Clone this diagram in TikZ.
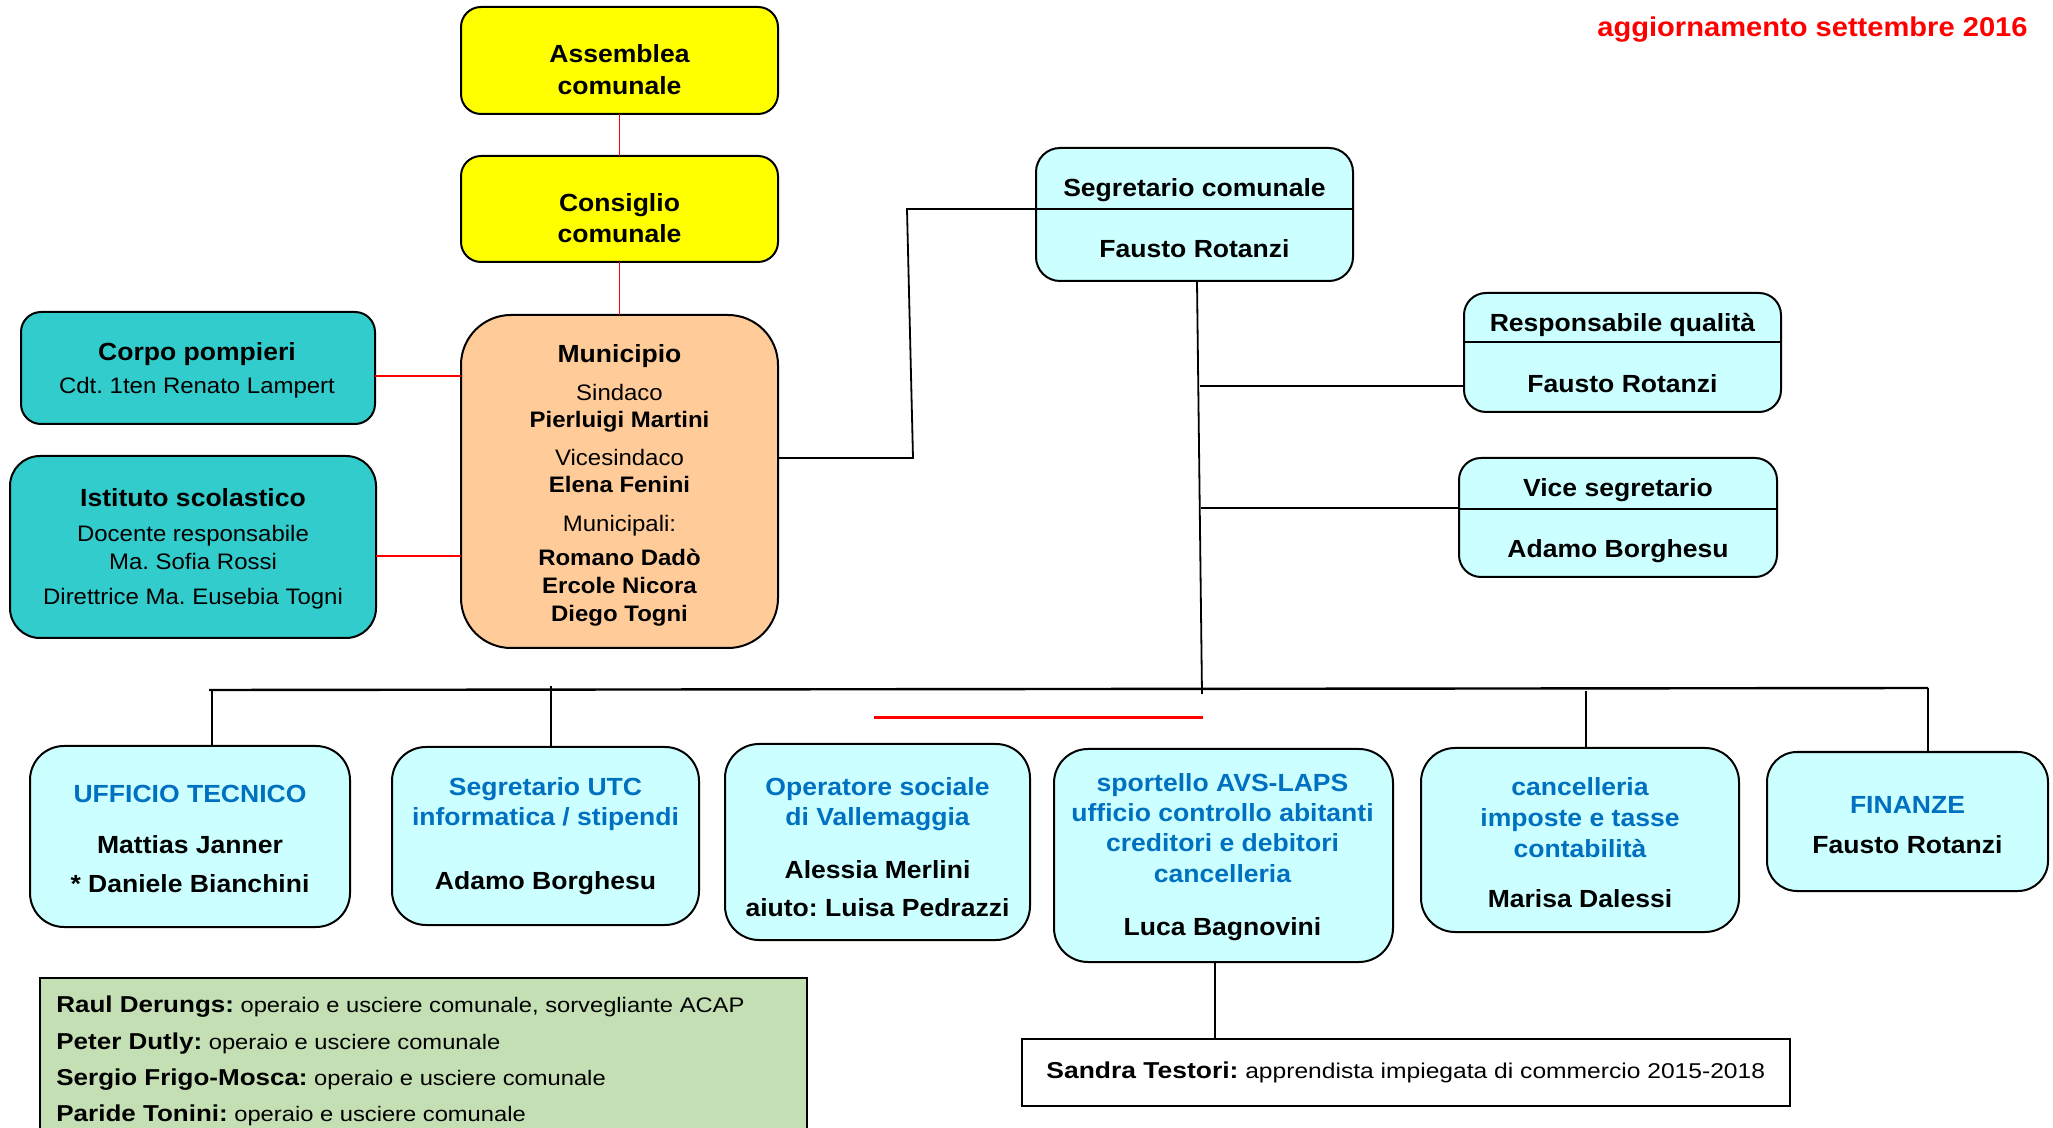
\documentclass[tikz,border=0pt]{standalone}
\usepackage{fontspec}
\setmainfont{Liberation Sans}[FakeStretch=1.07]
\newfontfamily\greenfont{Liberation Sans}[FakeStretch=1.13]
\newfontfamily\sandrafont{Liberation Sans}[FakeStretch=1.15]
\frenchspacing
\definecolor{yel}{HTML}{FFFF00}
\definecolor{peach}{HTML}{FFCC99}
\definecolor{tealbox}{HTML}{33CCCC}
\definecolor{lcyan}{HTML}{CCFFFF}
\definecolor{ublue}{HTML}{0070C0}
\definecolor{lgreen}{HTML}{C4DFB4}
\tikzset{
  bx/.style={draw=black, line width=1pt, inner sep=0pt, outer sep=0pt},
  sz/.style 2 args={minimum width=#1*0.5pt, minimum height=#2*0.5pt},
  hd/.style={anchor=base, inner sep=0pt, font=\bfseries\fontsize{12.4}{14}\selectfont},
  rg/.style={anchor=base, inner sep=0pt, font=\fontsize{11.2}{13}\selectfont},
  nm/.style={anchor=base, inner sep=0pt, font=\bfseries\fontsize{11.2}{13}\selectfont},
  bl/.style={hd, text=ublue},
  conn/.style={draw=black, line width=0.9pt},
  rconn/.style={draw=red, line width=0.9pt},
  cyanbox/.style={bx, fill=lcyan, rounded corners=17pt}
}
\begin{document}
\frenchspacing
\begin{tikzpicture}[x=0.5pt,y=-0.5pt]
\useasboundingbox (0,0) rectangle (2053,1128);
\fill[white] (0,0) rectangle (2053,1128);

% ---------- boxes ----------
\node[bx, fill=yel, rounded corners=10pt, sz={317}{107}] (ass) at (619.5,60.5) {};
\node[bx, fill=yel, rounded corners=10pt, sz={317}{106}] (cons) at (619.5,209) {};
\node[bx, fill=peach, rounded corners=25pt, sz={317}{333}] (mun) at (619.5,481.5) {};
\node[bx, fill=tealbox, rounded corners=10pt, sz={354}{112}] (corpo) at (198,368) {};
\node[bx, fill=tealbox, rounded corners=15pt, sz={366}{182}] (ist) at (193,547) {};
\node[bx, fill=lcyan, rounded corners=12pt, sz={317}{133}] (seg) at (1194.5,214.5) {};
\node[bx, fill=lcyan, rounded corners=11pt, sz={317}{119}] (resp) at (1622.5,352.5) {};
\node[bx, fill=lcyan, rounded corners=11pt, sz={318}{119}] (vice) at (1618,517.5) {};
\node[cyanbox, sz={320}{181}] (uff) at (190,836.5) {};
\node[cyanbox, sz={307}{178}] (utc) at (545.5,836) {};
\node[cyanbox, sz={305}{196}] (ope) at (877.5,842) {};
\node[cyanbox, sz={339}{213}] (spo) at (1223.5,855.5) {};
\node[cyanbox, sz={318}{184}] (can) at (1580,840) {};
\node[cyanbox, rounded corners=15pt, sz={281}{139}] (fin) at (1907.5,821.5) {};
\begin{scope}
\clip (0,0) rectangle (2053,1128);
\node[bx, fill=lgreen, sz={767}{170}] (grn) at (423.5,1063) {};
\end{scope}
\node[bx, fill=white, sz={768}{67}] (san) at (1406,1072.5) {};

% dividers
\coordinate (dseg) at (0,209);
\coordinate (dresp) at (0,342);
\coordinate (dvice) at (0,509);
\draw[line width=1pt] (seg.west |- dseg) -- (seg.east |- dseg);
\draw[line width=1pt] (resp.west |- dresp) -- (resp.east |- dresp);
\draw[line width=1pt] (vice.west |- dvice) -- (vice.east |- dvice);

% ---------- connectors ----------
\draw[rconn] (ass) -- (cons);
\draw[rconn] (cons) -- (mun);
\coordinate (r1) at (0,376);
\coordinate (r2) at (0,556);
\draw[rconn] (corpo.east |- r1) -- (mun.west |- r1);
\draw[rconn] (ist.east |- r2) -- (mun.west |- r2);

\coordinate (jm) at (913,458);
\coordinate (js) at (907,209);
\draw[conn] (mun.east |- jm) -- (jm) -- (js) -- (seg.west |- js);

\coordinate (tt) at (1197,281);
\coordinate (tb) at (1202,694);
\draw[conn] (seg.south -| tt) -- (tb);
\coordinate (br1) at (1199.5,386);
\coordinate (br2) at (1200.5,508);
\draw[conn] (br1) -- (resp.west |- br1);
\draw[conn] (br2) -- (vice.west |- br2);

\coordinate (busL) at (209,690);
\coordinate (busR) at (1928,688);
\draw[conn, line width=1.2pt] (busL) -- (busR);
\coordinate (d1) at (212,690);
\coordinate (d2) at (551,686);
\coordinate (d3) at (1586,691);
\draw[conn] (d1) -- (uff.north -| d1);
\draw[conn] (d2) -- (utc.north -| d2);
\draw[conn] (d3) -- (can.north -| d3);
\draw[conn] (busR) -- (fin.north -| busR);

\coordinate (rl1) at (874,718);
\coordinate (rl2) at (1203,718);
\draw[draw=red, line width=1.5pt] (rl1) -- (rl2);

\coordinate (ds) at (1215,962);
\draw[conn] (spo.south -| ds) -- (san.north -| ds);

% ---------- texts ----------
\node[anchor=base east, inner sep=0pt, text=red, font=\bfseries\fontsize{13.6}{16}\selectfont] (upd) at (2028,37) {aggiornamento settembre 2016};

\node[hd] (t-ass1) at (619.5,63) {Assemblea};
\node[hd] (t-ass2) at (619.5,95) {comunale};
\node[hd] (t-con1) at (619.5,212) {Consiglio};
\node[hd] (t-con2) at (619.5,243) {comunale};

\node[hd] (t-mun1) at (619.5,363) {Municipio};
\node[rg] (t-mun2) at (619.5,401) {Sindaco};
\node[nm] (t-mun3) at (619.5,428) {Pierluigi Martini};
\node[rg] (t-mun4) at (619.5,466) {Vicesindaco};
\node[nm] (t-mun5) at (619.5,493) {Elena Fenini};
\node[rg] (t-mun6) at (619.5,532) {Municipali:};
\node[nm] (t-mun7) at (619.5,566) {Romano Dadò};
\node[nm] (t-mun8) at (619.5,594) {Ercole Nicora};
\node[nm] (t-mun9) at (619.5,622) {Diego Togni};

\node[hd] (t-cor1) at (197,361) {Corpo pompieri};
\node[rg] (t-cor2) at (197,394) {Cdt. 1ten Renato Lampert};

\node[hd] (t-ist1) at (193,507) {Istituto scolastico};
\node[rg] (t-ist2) at (193,542) {Docente responsabile};
\node[rg] (t-ist3) at (193,570) {Ma. Sofia Rossi};
\node[rg] (t-ist4) at (193,605) {Direttrice Ma. Eusebia Togni};

\node[hd] (t-seg1) at (1194.5,197) {Segretario comunale};
\node[hd] (t-seg2) at (1194.5,258) {Fausto Rotanzi};
\node[hd] (t-res1) at (1622.5,332) {Responsabile qualità};
\node[hd] (t-res2) at (1622.5,393) {Fausto Rotanzi};
\node[hd] (t-vic1) at (1618,497) {Vice segretario};
\node[hd] (t-vic2) at (1618,558) {Adamo Borghesu};

\node[bl] (t-uff1) at (190,802) {UFFICIO TECNICO};
\node[hd] (t-uff2) at (190,853) {Mattias Janner};
\node[hd] (t-uff3) at (190,892) {* Daniele Bianchini};

\node[bl] (t-utc1) at (545.5,795) {Segretario UTC};
\node[bl] (t-utc2) at (545.5,826) {informatica / stipendi};
\node[hd] (t-utc3) at (545.5,889) {Adamo Borghesu};

\node[bl] (t-ope1) at (877.5,795) {Operatore sociale};
\node[bl] (t-ope2) at (877.5,826) {di Vallemaggia};
\node[hd] (t-ope3) at (877.5,878) {Alessia Merlini};
\node[hd] (t-ope4) at (877.5,916) {aiuto: Luisa Pedrazzi};

\node[bl] (t-spo1) at (1222.5,791.5) {sportello AVS-LAPS};
\node[bl] (t-spo2) at (1222.5,821.5) {ufficio controllo abitanti};
\node[bl] (t-spo3) at (1222.5,851.5) {creditori e debitori};
\node[bl] (t-spo4) at (1222.5,882.5) {cancelleria};
\node[hd] (t-spo5) at (1222.5,935) {Luca Bagnovini};

\node[bl] (t-can1) at (1580,796) {cancelleria};
\node[bl] (t-can2) at (1580,827) {imposte e tasse};
\node[bl] (t-can3) at (1580,857) {contabilità};
\node[hd] (t-can4) at (1580,907) {Marisa Dalessi};

\node[bl] (t-fin1) at (1907.5,813) {FINANZE};
\node[hd] (t-fin2) at (1907.5,853) {Fausto Rotanzi};

\begin{scope}[every node/.style={anchor=base west, inner sep=0pt, font=\greenfont\fontsize{10.5}{13}\selectfont}]
\node (g1) at (56,1012) {{\bfseries\fontsize{11.5}{13}\selectfont Raul Derungs:} operaio e usciere comunale, sorvegliante ACAP};
\node (g2) at (56,1049) {{\bfseries\fontsize{11.5}{13}\selectfont Peter Dutly:} operaio e usciere comunale};
\node (g3) at (56,1085.5) {{\bfseries\fontsize{11.5}{13}\selectfont Sergio Frigo-Mosca:} operaio e usciere comunale};
\node (g4) at (56,1121.5) {{\bfseries\fontsize{11.5}{13}\selectfont Paride Tonini:} operaio e usciere comunale};
\end{scope}

\node[anchor=base west, inner sep=0pt, font=\sandrafont\fontsize{10.7}{13}\selectfont] (t-san) at (1046,1078) {{\bfseries\fontsize{11.5}{13}\selectfont Sandra Testori:} apprendista impiegata di commercio 2015-2018};
\end{tikzpicture}
\end{document}
